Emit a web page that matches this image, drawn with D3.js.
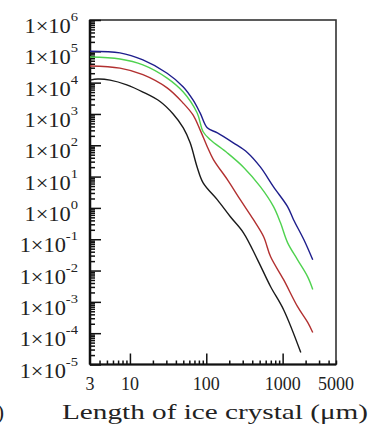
<!DOCTYPE html>
<html lang="en">
<head>
    <meta charset="UTF-8">
    <script src="https://d3js.org/d3.v7.min.js" charset="utf-8"></script>
    <title>Ice crystal size distribution</title>
    <style>
        body { margin: 0; background: #fff; }
        text { font-family: "Liberation Serif", "DejaVu Serif", serif; fill: #222; }
    </style>
</head>
<body>
<div id="vis"></div>
<script>
    // values: [length in um, number]
    var blue = [[3, 1.0e5], [7.4, 8.9e4], [14.8, 5.3e4], [30.7, 2.0e4], [50, 7.3e3], [67, 2.8e3],
                [83, 1.08e3], [103, 360], [140, 250], [226, 120], [347, 58], [513, 20], [760, 4.7],
                [1160, 1.1], [1390, 0.42], [1900, 0.096], [2480, 0.022]];
    var green = [[3, 6.6e4], [7.4, 5.7e4], [14.8, 3.7e4], [30.7, 1.4e4], [50, 5.0e3], [76, 1.07e3],
                 [91, 270], [113, 150], [189, 57], [307, 20], [513, 4.7], [760, 1.1], [935, 0.34],
                 [1160, 0.078], [1570, 0.022], [2130, 6.3e-3], [2480, 2.5e-3]];
    var red = [[3, 3.4e4], [7.4, 2.9e4], [14.8, 1.8e4], [30.7, 6.8e3], [50, 2.2e3], [67, 930],
               [83, 310], [103, 90], [124, 35], [189, 8], [280, 1.8], [415, 0.42], [564, 0.12],
               [694, 0.028], [1030, 5.1e-3], [1570, 7e-4], [2130, 2.2e-4], [2480, 1.05e-4]];
    var black = [[3, 1.2e4], [3.8, 1.3e4], [5.5, 1.2e4], [9.1, 8.5e3], [14.8, 5.0e3], [24.8, 2.5e3],
                 [36.8, 1.0e3], [50, 360], [61.5, 120], [76, 20], [91, 6.3], [140, 1.8], [207, 0.52],
                 [307, 0.16], [470, 0.022], [694, 3.1e-3], [1030, 5.6e-4], [1730, 2.4e-5]];

    var series = [black, red, green, blue],
        colors = ["#1a1a1a", "#b23030", "#4fd24f", "#1e1e8c"];

    var xMajor = [10, 100, 1000],
        xLabels = [3, 10, 100, 1000, 5000],
        xMinor = [4, 5, 6, 7, 8, 9, 20, 30, 40, 50, 60, 70, 80, 90,
                  200, 300, 400, 500, 600, 700, 800, 900, 2000, 3000, 4000, 5000],
        yExps = [6, 5, 4, 3, 2, 1, 0, -1, -2, -3, -4, -5];

    var width = 371, height = 426,
        pLeft = 90, pRight = 336, pTop = 20, pBottom = 364.5;

    var svg = d3.select("#vis").append("svg").attr("width", width).attr("height", height);

    var x = d3.scaleLog().domain([3, 5000]).range([pLeft, pRight]),
        y = d3.scaleLog().domain([1e-5, 1e6]).range([pBottom, pTop]);

    var yMinor = [];
    yExps.forEach(function (e) {
        if (e < 6) for (var m = 2; m <= 9; m++) yMinor.push(m * Math.pow(10, e));
    });

    // frame
    svg.append("rect")
        .attr("x", pLeft).attr("y", pTop)
        .attr("width", pRight - pLeft).attr("height", pBottom - pTop)
        .style("fill", "none").style("stroke", "#333").style("stroke-width", 1.6);

    // ticks (inside)
    function tickAxis(axis, tx, ty) {
        var g = svg.append("g").attr("transform", "translate(" + tx + "," + ty + ")").call(axis);
        g.select(".domain").remove();
        g.selectAll(".tick line").style("stroke", "#111").style("stroke-width", 1.5);
        g.selectAll(".tick text").remove();
        return g;
    }
    tickAxis(d3.axisTop(x).tickValues(xMajor).tickSize(11), 0, pBottom);
    tickAxis(d3.axisTop(x).tickValues(xMinor).tickSize(4), 0, pBottom);
    tickAxis(d3.axisRight(y).tickValues(yExps.map(function (e) { return Math.pow(10, e); })).tickSize(11), pLeft, 0);
    tickAxis(d3.axisRight(y).tickValues(yMinor).tickSize(5), pLeft, 0);

    // heavier left and bottom axis lines
    svg.append("line").attr("x1", pLeft).attr("x2", pLeft).attr("y1", pTop).attr("y2", pBottom)
        .style("stroke", "#111").style("stroke-width", 2.5);
    svg.append("line").attr("x1", pLeft).attr("x2", pRight).attr("y1", pBottom).attr("y2", pBottom)
        .style("stroke", "#111").style("stroke-width", 2);

    // curves
    var line = d3.line()
        .x(function (d) { return x(d[0]); })
        .y(function (d) { return y(d[1]); })
        .curve(d3.curveCatmullRom.alpha(0.5));

    svg.selectAll("path.curve").data(series).enter().append("path")
        .attr("class", "curve")
        .attr("d", line)
        .style("fill", "none")
        .style("stroke", function (d, i) { return colors[i]; })
        .style("stroke-width", 1.4)
        .style("stroke-linejoin", "round");

    // y labels 1x10^n
    var yl = svg.append("g").selectAll("text").data(yExps).enter().append("text")
        .attr("transform", function (e) { return "translate(78," + (y(Math.pow(10, e)) + 13) + ") scale(1.12,1)"; })
        .attr("text-anchor", "end")
        .style("font-size", "20px");
    yl.append("tspan").text("1\u00d710");
    yl.append("tspan").attr("dy", -12).style("font-size", "13px")
        .text(function (e) { return e < 0 ? "-" + (-e) : e; });

    // x labels
    svg.append("g").selectAll("text").data(xLabels).enter().append("text")
        .attr("x", function (d) { return x(d); })
        .attr("y", 390)
        .attr("text-anchor", "middle")
        .style("font-size", "18px")
        .text(function (d) { return d; });

    svg.append("text")
        .attr("x", 62).attr("y", 419)
        .attr("textLength", 306).attr("lengthAdjust", "spacingAndGlyphs")
        .style("font-size", "22px")
        .text("Length of ice crystal (\u03bcm)");

    // edge of the neighbouring panel's label
    svg.append("text")
        .attr("x", 4).attr("y", 419)
        .attr("text-anchor", "end")
        .style("font-size", "22px")
        .text("(a)");
</script>
</body>
</html>
